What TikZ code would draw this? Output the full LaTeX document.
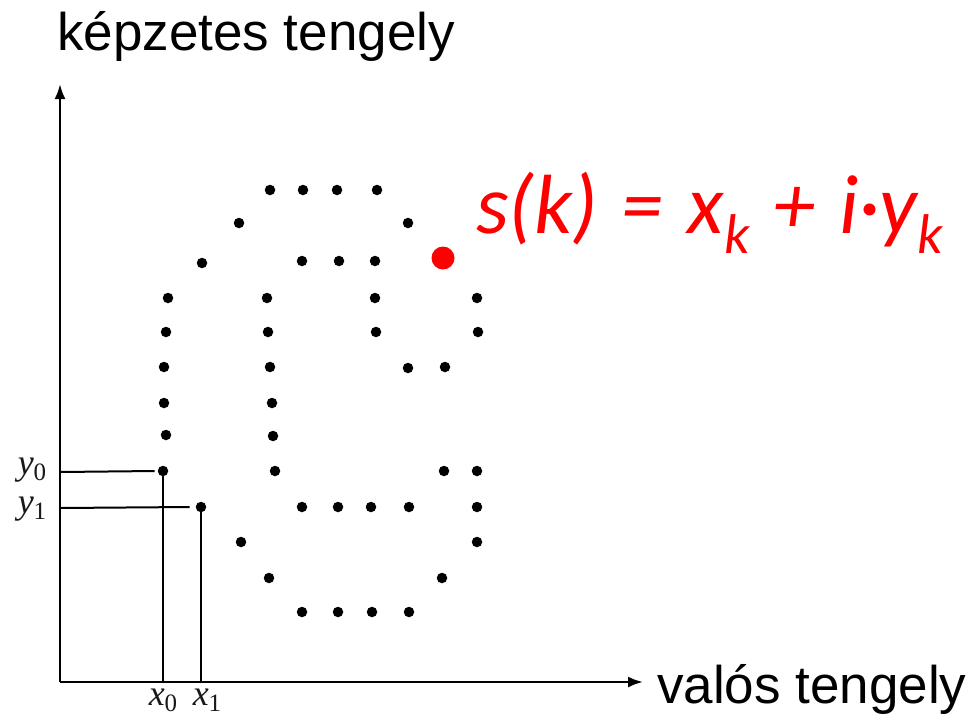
\documentclass[tikz,border=0pt]{standalone}
\usepackage{fontspec}
\setmainfont{Liberation Sans}
\newfontfamily\formulafont{Carlito}
\newfontfamily\labelfont{Liberation Serif}
\usetikzlibrary{arrows.meta}
\definecolor{formred}{RGB}{255,0,0}
\newcommand{\opgap}{\hspace{24pt}}
\newcommand{\subk}{\raisebox{-20pt}{\fontsize{56}{56}\selectfont k}}
\newcommand{\coordlab}[2]{\textit{#1}\raisebox{-6pt}{\fontsize{25}{25}\selectfont #2}}
\begin{document}
\begin{tikzpicture}[x=1pt,y=-1pt,
  pt/.style={circle,fill=black,inner sep=0pt,minimum size=10.5pt},
  axis/.style={line width=2.4pt,-{Latex[length=15pt,width=11pt]}},
  guide/.style={line width=2pt},
  axlabel/.style={font=\fontsize{53}{53}\selectfont,inner sep=0pt},
  coordlabel/.style={font=\labelfont\fontsize{36}{36}\selectfont,inner sep=0pt,text=black!90}]
\useasboundingbox (0,0) rectangle (976,718);
\fill[white] (0,0) rectangle (976,718);
% axes
\coordinate (O) at (60,682);
\coordinate (ytip) at (60,84);
\coordinate (xtip) at (643,682);
\draw[axis] (O) -- (ytip);
\draw[axis] (O) -- (xtip);
\node[axlabel,anchor=base west] (ylab) at (57,50) {képzetes tengely};
\node[axlabel,anchor=base west] (xlab) at (657,703) {valós tengely};
% dots
\foreach \x/\y [count=\i] in {
  270/190,303/190,337/190,377/190,
  239/223,408/223,
  202/263,302/261,339/261,375/261,
  168/298,267/298,375/298,477/298,
  166/332,268/332,376/332,478/332,
  164/367,270/367,408/368,445/367,
  164/403,272/403,
  166/435,273/436,
  275/471,444/471,477/471,
  302/507,338/507,371/507,409/507,477/507,
  241/542,477/542,
  269/578,442/578,
  302/612,338/612,372/612,409/612}
  \node[pt] (p\i) at (\x,\y) {};
\node[pt] (d0) at (163,471) {};
\node[pt] (d1) at (201,507) {};
% guide lines
\coordinate (ay0) at (60,472);
\coordinate (ay1) at (60,508);
\coordinate (ax0) at (163,682);
\coordinate (ax1) at (201,682);
\draw[guide] (ay0) -- ([xshift=-3pt]d0.west);
\draw[guide] (ay1) -- ([xshift=-6pt]d1.west);
\draw[guide] ([yshift=5pt]d0.south) -- (ax0);
\draw[guide] ([yshift=5pt]d1.south) -- (ax1);
\node[coordlabel,anchor=base] (ly0) at (32,474) {\coordlab{y}{0}};
\node[coordlabel,anchor=base] (ly1) at (32,513) {\coordlab{y}{1}};
\node[coordlabel,anchor=base] (lx0) at (163,705) {\coordlab{x}{0}};
\node[coordlabel,anchor=base] (lx1) at (207,705) {\coordlab{x}{1}};
% red point and formula
\node[circle,fill=formred,inner sep=0pt,minimum size=23pt] (sk) at (443,258) {};
\node[anchor=base west,inner sep=0pt,text=formred] (formula) at (476,233)
  {\formulafont\itshape\fontsize{84}{84}\selectfont s(k)\opgap=\opgap x\subk\opgap+\opgap i·y\subk};
\end{tikzpicture}
\end{document}
